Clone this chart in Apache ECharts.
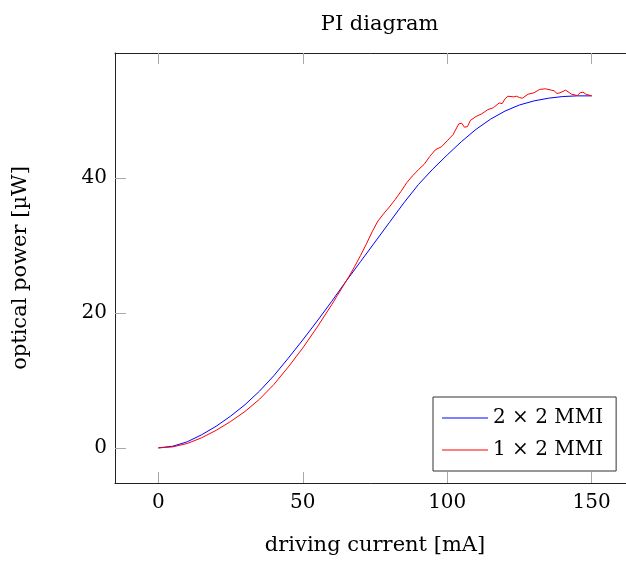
<!DOCTYPE html>
<html>
<head>
<meta charset="utf-8">
<script src="https://cdn.jsdelivr.net/npm/echarts@6/dist/echarts.min.js"></script>
<style>
  html, body { margin: 0; padding: 0; background: #fff; }
  #chart { width: 626px; height: 562px; }
</style>
</head>
<body>
<div id="chart"></div>
<script>
// Driving current (mA) and measured optical power (µW) for each device
const current2x2 = [0, 5, 10, 15, 20, 25, 30, 35, 40, 45, 50, 55, 60, 65, 70, 75, 80, 85, 90, 95,
  100, 105, 110, 115, 120, 125, 130, 135, 140, 145, 150];
const power2x2 = [0, 0.25, 0.9, 1.95, 3.2, 4.7, 6.4, 8.4, 10.7, 13.3, 16.0, 18.8, 21.7, 24.7, 27.6, 30.5,
  33.4, 36.3, 39.0, 41.3, 43.4, 45.4, 47.2, 48.7, 49.9, 50.8, 51.4, 51.8, 52.05, 52.15, 52.15];

const current1x2 = [0, 5, 10, 15, 20, 25, 30, 35, 40, 45, 50, 55, 60, 62, 64, 66, 68, 70, 72, 74, 76, 78,
  80, 82, 84, 86, 88, 90, 92, 94, 96, 98, 100, 102, 104, 105, 106, 107, 108, 110, 112, 114, 116, 118,
  119, 120, 121, 123, 124, 125, 126, 128, 130, 132, 134, 136, 137, 138, 139, 141, 143, 145, 146, 147,
  148, 150];
const power1x2 = [0, 0.15, 0.65, 1.5, 2.6, 3.9, 5.4, 7.2, 9.4, 12.0, 14.8, 17.9, 21.2, 22.6, 24.0, 25.4,
  26.9, 28.5, 30.2, 32.0, 33.6, 34.7, 35.7, 36.8, 38.0, 39.3, 40.3, 41.2, 42.0, 43.2, 44.2, 44.6, 45.5,
  46.4, 48.0, 48.1, 47.5, 47.6, 48.5, 49.1, 49.5, 50.1, 50.4, 51.1, 51.0, 51.7, 52.1, 52.0, 52.1, 51.9,
  51.8, 52.4, 52.6, 53.1, 53.2, 53.0, 52.9, 52.5, 52.6, 53.0, 52.4, 52.2, 52.6, 52.7, 52.4, 52.15];

const xTicks = [0, 50, 100, 150];
const yTicks = [0, 20, 40];

const FONT = 'DejaVu Serif';
const TICK = { show: true, inside: true, length: 11, lineStyle: { color: '#a8a8a8', width: 1 } };
const LINE = { show: true, onZero: false, lineStyle: { color: '#222', width: 1 } };

const pairs = (xs, ys) => xs.map((x, i) => [x, ys[i]]);

const chart = echarts.init(document.getElementById('chart'), null, { renderer: 'canvas' });
chart.setOption({
  animation: false,
  backgroundColor: '#fff',
  title: {
    text: 'PI diagram',
    left: 374.6,
    top: 9,
    textAlign: 'center',
    textStyle: { fontFamily: FONT, fontSize: 21, fontWeight: 'normal', color: '#000' }
  },
  // the plot box runs a little past the right edge of the page
  grid: { left: 115, top: 53, width: 520, height: 430, containLabel: false, outerBoundsMode: 'none' },
  xAxis: [
    {
      type: 'value', min: -15, max: 165, position: 'bottom',
      axisLine: LINE,
      axisTick: Object.assign({ customValues: xTicks }, TICK),
      axisLabel: { customValues: xTicks, fontFamily: FONT, fontSize: 20, color: '#000', margin: 10 },
      splitLine: { show: false },
      name: 'driving current [mA]', nameLocation: 'middle', nameGap: 52,
      nameTextStyle: { fontFamily: FONT, fontSize: 21, color: '#000' }
    },
    {
      type: 'value', min: -15, max: 165, position: 'top',
      axisLine: LINE,
      axisTick: Object.assign({ customValues: xTicks }, TICK),
      axisLabel: { show: false },
      splitLine: { show: false }
    }
  ],
  yAxis: [
    {
      type: 'value', min: -5.2, max: 58.5, position: 'left',
      axisLine: LINE,
      axisTick: Object.assign({ customValues: yTicks }, TICK),
      axisLabel: { customValues: yTicks, fontFamily: FONT, fontSize: 20, color: '#000', margin: 8 },
      splitLine: { show: false },
      name: 'optical power [µW]', nameLocation: 'middle', nameGap: 84,
      nameTextStyle: { fontFamily: FONT, fontSize: 21, color: '#000' }
    },
    {
      type: 'value', min: -5.2, max: 58.5, position: 'right', offset: 8,
      axisLine: LINE,
      axisTick: Object.assign({ customValues: yTicks }, TICK),
      axisLabel: { show: false },
      splitLine: { show: false }
    }
  ],
  legend: {
    orient: 'vertical',
    left: 433, top: 397,
    padding: [9, 13, 9, 9],
    icon: 'path://M0,0 L46,0 L46,1 L0,1 Z',
    symbolKeepAspect: false,
    itemWidth: 46, itemHeight: 1.2, itemGap: 8,
    borderColor: '#333', borderWidth: 1,
    backgroundColor: '#fff',
    textStyle: { fontFamily: FONT, fontSize: 20, color: '#000', lineHeight: 24 },
    data: ['2 × 2 MMI', '1 × 2 MMI']
  },
  series: [
    {
      name: '2 × 2 MMI', type: 'line', data: pairs(current2x2, power2x2),
      symbol: 'none', showSymbol: false, smooth: false,
      lineStyle: { color: '#0000ff', width: 1 }, itemStyle: { color: '#0000ff' }
    },
    {
      name: '1 × 2 MMI', type: 'line', data: pairs(current1x2, power1x2),
      symbol: 'none', showSymbol: false, smooth: false,
      lineStyle: { color: '#ff0000', width: 1 }, itemStyle: { color: '#ff0000' }
    }
  ]
});
</script>
</body>
</html>
